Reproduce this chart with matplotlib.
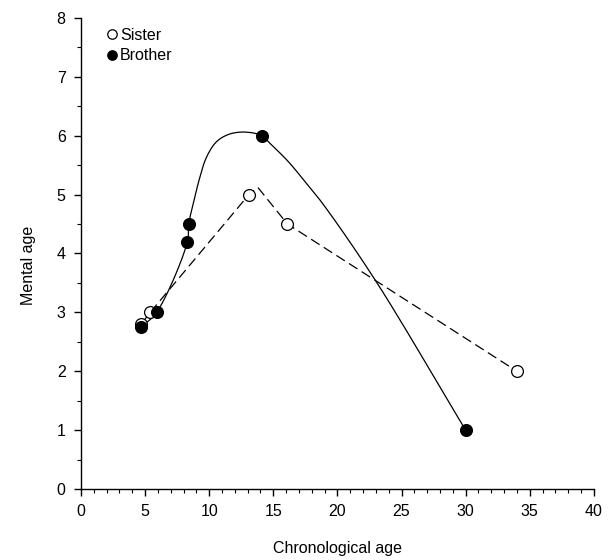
import numpy as np
import matplotlib.pyplot as plt

# values
sister_x = [4.7, 5.4, 13.1, 16.1, 34.0]
sister_y = [2.8, 3.0, 5.0, 4.5, 2.0]
# dashed trace of the sister curve (has a small peak just past 13)
sister_line_x = [4.7, 5.4, 13.1, 13.8, 16.1, 34.0]
sister_line_y = [2.8, 3.0, 5.0, 5.12, 4.5, 2.0]

brother_x = [4.7, 5.9, 8.3, 8.4, 14.1, 30.0]
brother_y = [2.75, 3.0, 4.2, 4.5, 6.0, 1.0]
# solid smooth curve of the brother
brother_line_x = [4.7, 5.9, 8.3, 8.4, 8.76, 9.28, 9.8, 10.58, 11.62, 12.92,
                  14.1, 14.74, 16.17, 17.47, 18.77, 23.0, 30.0]
brother_line_y = [2.75, 3.0, 4.2, 4.5, 4.85, 5.3, 5.64, 5.9, 6.03, 6.06,
                  6.0, 5.87, 5.56, 5.22, 4.87, 3.53, 1.0]


def smooth(x, y, n=12, ys=4.59):
    # centripetal catmull-rom through the traced vertices (in screen-like units)
    p = np.column_stack([x, np.asarray(y) * ys]).astype(float)
    p = np.vstack([2 * p[0] - p[1], p, 2 * p[-1] - p[-2]])
    out = [p[1]]
    for i in range(1, len(p) - 2):
        p0, p1, p2, p3 = p[i - 1], p[i], p[i + 1], p[i + 2]
        t0 = 0
        t1 = t0 + np.linalg.norm(p1 - p0) ** 0.5
        t2 = t1 + np.linalg.norm(p2 - p1) ** 0.5
        t3 = t2 + np.linalg.norm(p3 - p2) ** 0.5
        for t in np.linspace(t1, t2, n)[1:]:
            a1 = (t1 - t) / (t1 - t0) * p0 + (t - t0) / (t1 - t0) * p1
            a2 = (t2 - t) / (t2 - t1) * p1 + (t - t1) / (t2 - t1) * p2
            a3 = (t3 - t) / (t3 - t2) * p2 + (t - t2) / (t3 - t2) * p3
            b1 = (t2 - t) / (t2 - t0) * a1 + (t - t0) / (t2 - t0) * a2
            b2 = (t3 - t) / (t3 - t1) * a2 + (t - t1) / (t3 - t1) * a3
            out.append((t2 - t) / (t2 - t1) * b1 + (t - t1) / (t2 - t1) * b2)
    out = np.array(out)
    return out[:, 0], out[:, 1] / ys


plt.rcParams['font.family'] = ['Liberation Sans', 'DejaVu Sans']

fig = plt.figure(figsize=(6.16, 5.6), dpi=100)
ax = fig.add_axes([0.1315, 0.1268, 0.8325, 0.8412])

bx, by = smooth(brother_line_x, brother_line_y)
ax.plot(bx, by, color='black', lw=0.9, zorder=2)
ax.plot(sister_line_x, sister_line_y, color='black', lw=0.9,
        dashes=(8, 4), zorder=2)

ax.plot(sister_x, sister_y, 'o', ms=8.5, mfc='white', mec='black',
        mew=0.9, label='Sister', zorder=3)
ax.plot(brother_x, brother_y, 'o', ms=8.5, mfc='black', mec='black',
        mew=0.9, label='Brother', zorder=4)

ax.set_xlim(0, 40)
ax.set_ylim(0, 8)
ax.set_xticks(np.arange(0, 41, 5))
ax.set_xticks(np.arange(0, 41, 1), minor=True)
ax.set_yticks(np.arange(0, 9, 1))
ax.set_yticks(np.arange(0, 8.1, 0.5), minor=True)

for s in ['top', 'right']:
    ax.spines[s].set_visible(False)
for s in ['left', 'bottom']:
    ax.spines[s].set_linewidth(1.0)
ax.tick_params(which='major', direction='out', length=5, width=1,
               labelsize=11.5, pad=6)
ax.tick_params(which='minor', direction='out', length=3, width=0.8)

ax.set_xlabel('Chronological age', fontsize=11.5, labelpad=16)
ax.set_ylabel('Mental age', fontsize=11.5)
ax.yaxis.set_label_coords(-0.088, 0.475)

ax.legend(loc='upper left', frameon=False, fontsize=11.5,
          handletextpad=0.0, handlelength=1.0, borderaxespad=0.2,
          labelspacing=0.35, markerscale=0.8, bbox_to_anchor=(0.026, 1.0))

fig.savefig('out.png', dpi=100)
